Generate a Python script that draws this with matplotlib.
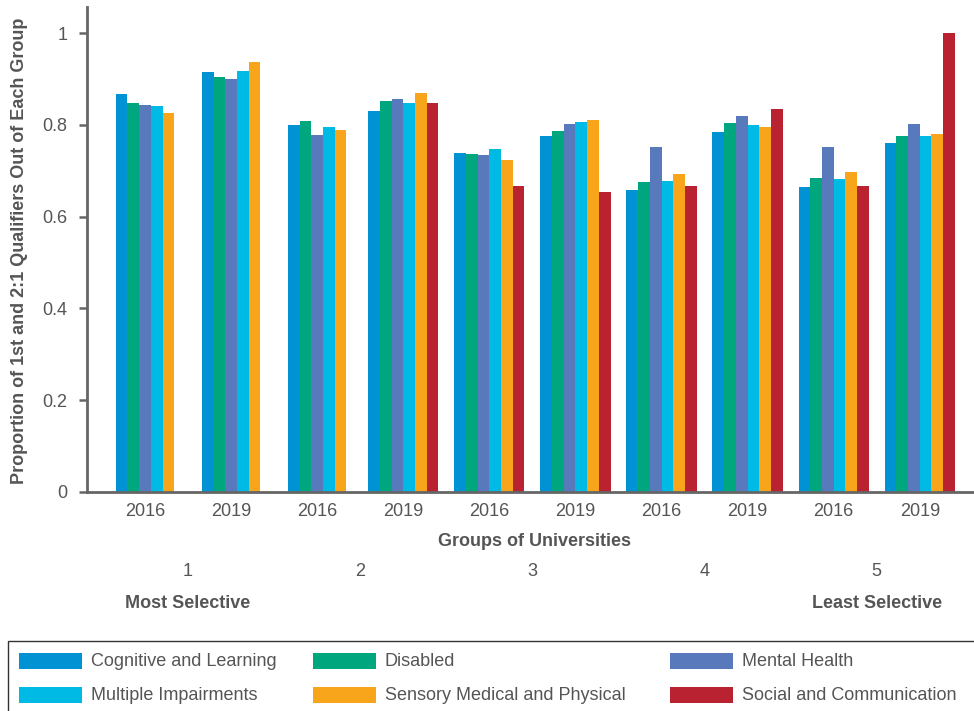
import numpy as np
import matplotlib.pyplot as plt
import matplotlib.transforms as mtransforms
from matplotlib.patches import Rectangle

plt.rcParams['font.family'] = ['Liberation Sans', 'DejaVu Sans']

GREY = '#555555'

years = ['2016', '2019'] * 5
groups = ['1', '2', '3', '4', '5']
nan = np.nan

cognitive = [0.867, 0.915, 0.800, 0.830, 0.739, 0.776, 0.658, 0.784, 0.664, 0.760]
disabled = [0.847, 0.904, 0.808, 0.852, 0.736, 0.786, 0.675, 0.804, 0.684, 0.776]
mental = [0.843, 0.900, 0.778, 0.856, 0.734, 0.802, 0.752, 0.819, 0.752, 0.802]
multiple = [0.841, 0.917, 0.795, 0.847, 0.747, 0.806, 0.678, 0.800, 0.682, 0.776]
sensory = [0.826, 0.937, 0.789, 0.869, 0.723, 0.810, 0.693, 0.795, 0.697, 0.780]
social = [nan, nan, nan, 0.847, 0.667, 0.654, 0.667, 0.834, 0.667, 1.000]

series = [
    ('Cognitive and Learning', cognitive, '#0092D2'),
    ('Disabled', disabled, '#00A67E'),
    ('Mental Health', mental, '#5979BD'),
    ('Multiple Impairments', multiple, '#00BAE6'),
    ('Sensory Medical and Physical', sensory, '#F9A51B'),
    ('Social and Communication', social, '#B92231'),
]

W, H = 974, 711
fig = plt.figure(figsize=(W / 100, H / 100), dpi=100)
ax = fig.add_axes([87 / W, 1 - 492 / H, 1 - 87 / W, 485 / H])

w = 0.136
x = np.arange(len(years))
for i in range(len(years)):
    present = [s for s in series if not np.isnan(s[1][i])]
    n = len(present)
    for k, (name, vals, col) in enumerate(present):
        ax.bar(x[i] + (k - (n - 1) / 2) * w, vals[i], width=w, color=col, linewidth=0)

ax.set_ylim(0, 1.057)
ax.set_xlim(-0.674, 9.63)
ax.set_yticks([0, 0.2, 0.4, 0.6, 0.8, 1.0])
ax.set_yticklabels(['0', '0.2', '0.4', '0.6', '0.8', '1'])
ax.set_xticks(x)
ax.set_xticklabels(years)
ax.tick_params(axis='x', length=0, pad=8, labelsize=13, colors=GREY)
ax.tick_params(axis='y', length=6, width=1.8, color='#666666', pad=8, labelsize=13, labelcolor=GREY)
for side in ['top', 'right']:
    ax.spines[side].set_visible(False)
for side in ['left', 'bottom']:
    ax.spines[side].set_color('#666666')
    ax.spines[side].set_linewidth(2)

ax.set_ylabel('Proportion of 1st and 2:1 Qualifiers Out of Each Group',
              fontsize=13, fontweight='bold', color=GREY)
ax.yaxis.set_label_coords((28 - 87) / (W - 87), (492 - 251) / 485)

btrans = mtransforms.blended_transform_factory(ax.transData, fig.transFigure)
fig.text(535 / W, 1 - 541 / H, 'Groups of Universities', ha='center', va='center',
         fontsize=13, fontweight='bold', color=GREY)
for g, lab in enumerate(groups):
    ax.text(2 * g + 0.5, 1 - 572 / H, lab, transform=btrans, ha='center', va='center',
            fontsize=13, color=GREY)
ax.text(0.5, 1 - 604 / H, 'Most Selective', transform=btrans, ha='center', va='center',
        fontsize=13, fontweight='bold', color=GREY)
ax.text(8.5, 1 - 604 / H, 'Least Selective', transform=btrans, ha='center', va='center',
        fontsize=13, fontweight='bold', color=GREY)

# legend drawn by hand: 3 columns x 2 rows
fig.patches.append(Rectangle((8 / W, -0.01), 1.0, 1 - 641 / H + 0.01, transform=fig.transFigure,
                             facecolor='white', edgecolor='#333333', linewidth=1))
col_x = [19, 313, 670]
row_y = [661, 695]
for j, (name, vals, col) in enumerate(series):
    cx = col_x[j % 3]
    ry = row_y[j // 3]
    fig.patches.append(Rectangle((cx / W, 1 - (ry + 8) / H), 63 / W, 16 / H,
                                 transform=fig.transFigure, facecolor=col, linewidth=0))
    fig.text((cx + 72) / W, 1 - ry / H, name, ha='left', va='center', fontsize=13, color=GREY)

fig.savefig('out.png', dpi=100)
